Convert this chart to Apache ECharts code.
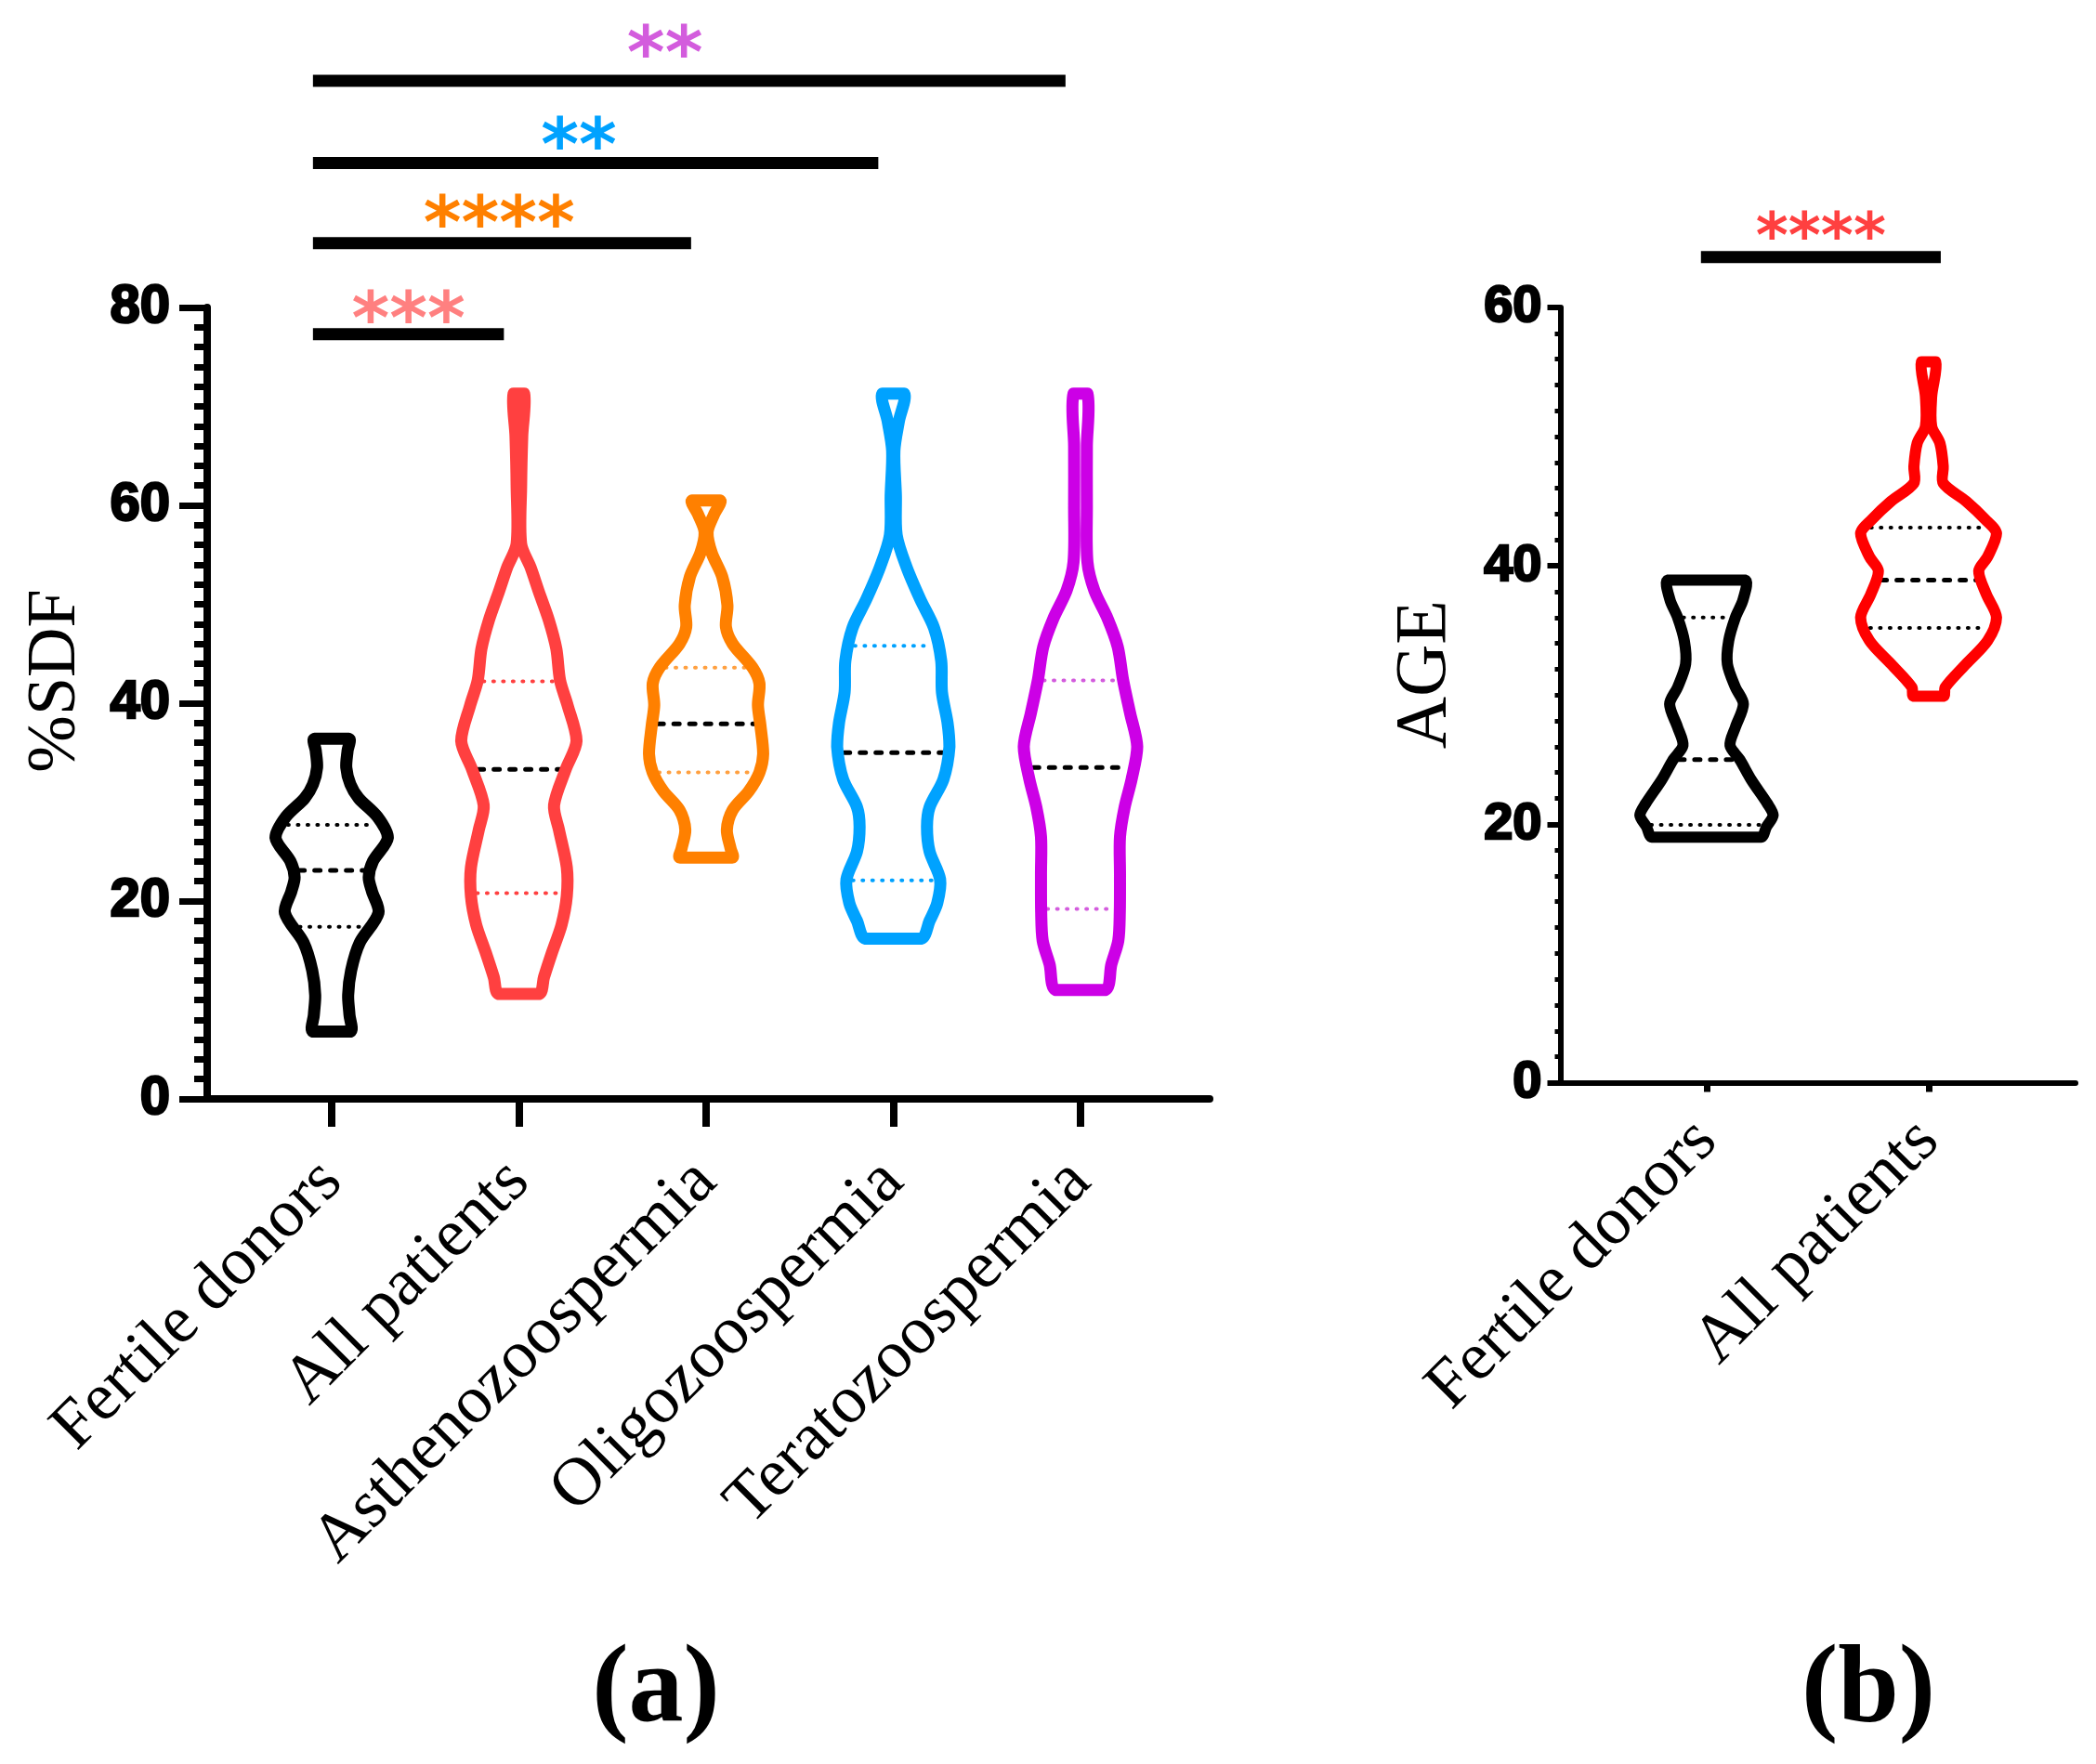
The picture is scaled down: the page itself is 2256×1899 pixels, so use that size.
<!DOCTYPE html>
<html>
<head>
<meta charset="utf-8">
<script src="https://cdn.jsdelivr.net/npm/echarts@6/dist/echarts.min.js"></script>
<style>
html,body{margin:0;padding:0;background:#ffffff;}
#c{width:2256px;height:1899px;}
</style>
</head>
<body>
<div id="c"></div>
<script>
// ---------------- DATA ----------------
const sdfCategories = ['Fertile donors', 'All patients', 'Asthenozoospermia', 'Oligozoospermia', 'Teratozoospermia'];
const sdfMedian = [23.1, 33.3, 37.9, 35.0, 33.5];
const sdfQ1 = [17.4, 20.8, 33.0, 22.1, 19.2];
const sdfQ3 = [27.7, 42.2, 43.6, 45.8, 42.3];
const sdfTicks = [0, 20, 40, 60, 80];

// violin outlines: [value, half width (category units)], bottom -> top
const sdfFertileShape = [[6.8,0.10],[8.5,0.095],[10.5,0.088],[13.0,0.104],[15.8,0.15],[18.8,0.25],[21.0,0.215],[22.4,0.198],[24.0,0.22],[26.4,0.30],[28.5,0.245],[30.4,0.144],[31.8,0.10],[33.5,0.078],[35.2,0.085],[36.4,0.092]];
const sdfAllShape = [[10.6,0.108],[12.3,0.134],[14.8,0.177],[17.6,0.228],[20.5,0.256],[23.4,0.256],[27.2,0.214],[29.7,0.188],[33.3,0.25],[36.2,0.308],[39.8,0.26],[42.3,0.22],[45.5,0.2],[48.4,0.16],[51.3,0.106],[53.7,0.063],[56.1,0.012],[62.0,0.012],[67.0,0.018],[71.3,0.028]];
const sdfAsthenoShape = [[24.4,0.14],[25.3,0.131],[27.2,0.111],[29.2,0.142],[31.1,0.228],[33.0,0.285],[34.9,0.305],[37.8,0.29],[39.8,0.277],[42.0,0.285],[43.6,0.248],[46.0,0.142],[47.7,0.106],[49.9,0.114],[52.8,0.086],[55.2,0.03],[57.3,0.008],[59.1,0.043],[60.5,0.075]];
const sdfOligoShape = [[16.2,0.149],[18.0,0.194],[19.8,0.235],[22.2,0.25],[25.0,0.194],[27.5,0.18],[29.5,0.194],[32.3,0.268],[35.6,0.30],[38.0,0.29],[41.1,0.26],[44.3,0.256],[47.6,0.218],[50.5,0.144],[53.8,0.07],[57.0,0.018],[61.0,0.014],[65.5,0.006],[68.5,0.03],[71.3,0.058]];
const sdfTeratoShape = [[11.0,0.132],[13.6,0.165],[16.0,0.202],[18.9,0.21],[22.7,0.211],[26.5,0.211],[29.5,0.236],[32.3,0.273],[35.6,0.303],[39.0,0.265],[42.4,0.227],[45.7,0.199],[48.6,0.144],[51.4,0.074],[54.3,0.037],[60.0,0.034],[66.0,0.034],[71.3,0.037]];

const sdfSigFrom = [0, 0, 0, 0];
const sdfSigTo = [1, 2, 3, 4];
const sdfSigLabels = ['***', '****', '**', '**'];

const ageCategories = ['Fertile donors', 'All patients'];
const ageMedian = [25.0, 38.9];
const ageQ1 = [19.95, 35.2];
const ageQ3 = [36.0, 42.96];
const ageTicks = [0, 20, 40, 60];
const ageFertileShape = [[19.0,0.245],[19.8,0.27],[20.7,0.30],[21.6,0.274],[23.4,0.203],[25.0,0.15],[26.1,0.106],[27.5,0.13],[29.3,0.166],[30.6,0.13],[32.4,0.094],[34.2,0.10],[36.0,0.13],[37.4,0.165],[38.9,0.172]];
const ageAllShape = [[29.9,0.068],[30.6,0.075],[32.4,0.169],[34.2,0.266],[36.0,0.306],[37.8,0.26],[39.6,0.226],[40.7,0.266],[42.5,0.306],[43.6,0.255],[45.0,0.169],[46.4,0.066],[47.7,0.066],[49.5,0.051],[50.8,0.014],[53.1,0.014],[55.8,0.032]];

const ageSigFrom = [0];
const ageSigTo = [1];
const ageSigLabels = ['****'];

// ---------------- STYLE / LAYOUT ----------------
const sdfShapes = [sdfFertileShape, sdfAllShape, sdfAsthenoShape, sdfOligoShape, sdfTeratoShape];
const ageShapes = [ageFertileShape, ageAllShape];
const sdfLineColors = ['#000000', '#FF4040', '#FF8000', '#00A2FF', '#CC00E6'];
const sdfQColors = ['#000000', '#FF4040', '#FFA040', '#00A2FF', '#D35CDD'];
const ageLineColors = ['#000000', '#FF0000'];
const ageQColors = ['#000000', '#000000'];
const sdfSigColors = ['#FF8080', '#FF8000', '#00A2FF', '#D35CDD'];
const ageSigColors = ['#FF4040'];
const sdfSigLevels = [77.3, 86.5, 94.6, 102.9];
const ageSigLevels = [63.9];
const sdfSigTextGap = [10, 15, 13, 23];      // px above bar
const sdfSigTextShift = [0, -0.015, -0.09, -0.13]; // category units
const ageSigTextGap = [17];
const ageSigTextShift = [0];

const serif = '"Liberation Serif", "Times New Roman", serif';
const sans = '"Liberation Sans", Arial, sans-serif';

function violinSeries(ai, shapes, q1, med, q3, lineColors, qColors, lw) {
  return {
    type: 'custom', xAxisIndex: ai, yAxisIndex: ai, clip: false, silent: true, z: 5,
    data: shapes.map((s, i) => [i, med[i]]),
    encode: { x: 0, y: 1 },
    renderItem: function (params, api) {
      const i = api.value(0);
      const shape = shapes[i];
      const pts = [];
      shape.forEach(p => pts.push(api.coord([i + p[1], p[0]])));
      for (let k = shape.length - 1; k >= 0; k--) pts.push(api.coord([i - shape[k][1], shape[k][0]]));
      let minX = Infinity, minY = Infinity, maxX = -Infinity, maxY = -Infinity;
      pts.forEach(p => { minX = Math.min(minX, p[0]); maxX = Math.max(maxX, p[0]); minY = Math.min(minY, p[1]); maxY = Math.max(maxY, p[1]); });
      const unit = api.coord([1, 0])[0] - api.coord([0, 0])[0];
      const inset = (lw / 2) / unit;
      const hwAt = v => {
        for (let k = 0; k < shape.length - 1; k++) {
          const a = shape[k], b = shape[k + 1];
          if (v >= a[0] && v <= b[0]) { const t = (v - a[0]) / (b[0] - a[0]); return a[1] + t * (b[1] - a[1]); }
        }
        return shape[0][1];
      };
      const hline = (v, style) => {
        const w = Math.max(hwAt(v) - inset, 0.01);
        const a = api.coord([i - w, v]), b = api.coord([i + w, v]);
        return { type: 'line', shape: { x1: a[0], y1: a[1], x2: b[0], y2: b[1] }, style: style };
      };
      const dotted = { stroke: qColors[i], lineWidth: 4, lineDash: [1, 9.5], lineCap: 'round', fill: null };
      const dashed = { stroke: '#000000', lineWidth: 5, lineDash: [6, 11], lineCap: 'round', fill: null };
      return {
        type: 'group',
        children: [
          hline(q1[i], dotted),
          hline(q3[i], dotted),
          hline(med[i], dashed),
          { type: 'polygon',
            shape: { points: pts, smooth: 0.3, smoothConstraint: [[minX, minY], [maxX, maxY]] },
            style: { fill: null, stroke: lineColors[i], lineWidth: lw, lineJoin: 'round' } }
        ]
      };
    }
  };
}

function sigSeries(ai, from, to, labels, levels, colors, offs, fontSize, gaps, shifts, thick) {
  return {
    type: 'custom', xAxisIndex: ai, yAxisIndex: ai, clip: false, silent: true, z: 6,
    data: from.map((f, k) => [f, to[k], levels[k]]),
    encode: { x: [0, 1], y: 2 },
    renderItem: function (params, api) {
      const k = params.dataIndex;
      const a = api.coord([api.value(0) + offs[0], api.value(2)]);
      const b = api.coord([api.value(1) + offs[1], api.value(2)]);
      const unit = api.coord([1, 0])[0] - api.coord([0, 0])[0];
      return {
        type: 'group',
        children: [
          { type: 'rect', shape: { x: a[0], y: a[1] - thick / 2, width: b[0] - a[0], height: thick }, style: { fill: '#000000' } },
          { type: 'text', x: (a[0] + b[0]) / 2 + shifts[k] * unit, y: a[1] - gaps[k],
            style: { text: labels[k], fill: colors[k], font: 'bold ' + fontSize + 'px "DejaVu Sans", sans-serif',
              align: 'center', verticalAlign: 'middle', textAlign: 'center', textVerticalAlign: 'middle' } }
        ]
      };
    }
  };
}

const chart = echarts.init(document.getElementById('c'), null, { renderer: 'canvas' });

const option = {
  animation: false,
  backgroundColor: '#ffffff',
  grid: [
    { left: 223, top: 331, width: 1079, height: 852 },
    { left: 1679.5, top: 331, width: 554.5, height: 834.4 }
  ],
  xAxis: [
    {
      type: 'value', gridIndex: 0, min: -0.665, max: 4.69,
      splitLine: { show: false },
      axisLine: { show: true, onZero: false, lineStyle: { color: '#000', width: 8 } },
      axisTick: { show: true, customValues: [0, 1, 2, 3, 4], length: 30, lineStyle: { color: '#000', width: 8 } },
      axisLabel: { show: true, customValues: [0, 1, 2, 3, 4], formatter: v => sdfCategories[Math.round(v)],
        rotate: 45, margin: 78, fontFamily: serif, fontSize: 73, color: '#000' }
    },
    {
      type: 'value', gridIndex: 1, min: -0.658, max: 1.662,
      splitLine: { show: false },
      axisLine: { show: true, onZero: false, lineStyle: { color: '#000', width: 6 } },
      axisTick: { show: true, customValues: [0, 1], length: 10, lineStyle: { color: '#000', width: 7 } },
      axisLabel: { show: true, customValues: [0, 1], formatter: v => ageCategories[Math.round(v)],
        rotate: 45, margin: 52, fontFamily: serif, fontSize: 73, color: '#000' }
    }
  ],
  yAxis: [
    {
      type: 'value', gridIndex: 0, min: sdfTicks[0], max: sdfTicks[sdfTicks.length - 1], interval: 20,
      splitLine: { show: false },
      axisLine: { show: true, onZero: false, lineStyle: { color: '#000', width: 8 } },
      axisTick: { show: true, length: 30, lineStyle: { color: '#000', width: 7 } },
      minorTick: { show: true, splitNumber: 10, length: 14, lineStyle: { color: '#000', width: 7 } },
      axisLabel: { margin: 40, fontFamily: sans, fontWeight: 'bold', fontSize: 58, color: '#000',
        textBorderColor: '#000', textBorderWidth: 2.5 },
      name: '%SDF', nameLocation: 'middle', nameGap: 125,
      nameTextStyle: { fontFamily: serif, fontSize: 74, color: '#000', padding: [0, 0, 0, 48] }
    },
    {
      type: 'value', gridIndex: 1, min: ageTicks[0], max: ageTicks[ageTicks.length - 1], interval: 20,
      splitLine: { show: false },
      axisLine: { show: true, onZero: false, lineStyle: { color: '#000', width: 6 } },
      axisTick: { show: true, length: 14, lineStyle: { color: '#000', width: 6 } },
      minorTick: { show: true, splitNumber: 10, length: 6, lineStyle: { color: '#000', width: 5 } },
      axisLabel: { margin: 20, fontFamily: sans, fontWeight: 'bold', fontSize: 56, color: '#000',
        textBorderColor: '#000', textBorderWidth: 2.5 },
      name: 'AGE', nameLocation: 'middle', nameGap: 106,
      nameTextStyle: { fontFamily: serif, fontSize: 78, color: '#000', padding: [0, 0, 0, 44] }
    }
  ],
  graphic: [
    { type: 'text', x: 706, y: 1822, style: { text: '(a)', font: 'bold 118px ' + serif, fill: '#000',
      align: 'center', verticalAlign: 'middle', textAlign: 'center', textVerticalAlign: 'middle' } },
    { type: 'text', x: 2011, y: 1822, style: { text: '(b)', font: 'bold 118px ' + serif, fill: '#000',
      align: 'center', verticalAlign: 'middle', textAlign: 'center', textVerticalAlign: 'middle' } }
  ],
  series: [
    violinSeries(0, sdfShapes, sdfQ1, sdfMedian, sdfQ3, sdfLineColors, sdfQColors, 13),
    violinSeries(1, ageShapes, ageQ1, ageMedian, ageQ3, ageLineColors, ageQColors, 12),
    sigSeries(0, sdfSigFrom, sdfSigTo, sdfSigLabels, sdfSigLevels, sdfSigColors, [-0.1, -0.08], 78, sdfSigTextGap, sdfSigTextShift, 13),
    sigSeries(1, ageSigFrom, ageSigTo, ageSigLabels, ageSigLevels, ageSigColors, [-0.025, 0.055], 67, ageSigTextGap, ageSigTextShift, 13)
  ]
};
chart.setOption(option);
</script>
</body>
</html>
